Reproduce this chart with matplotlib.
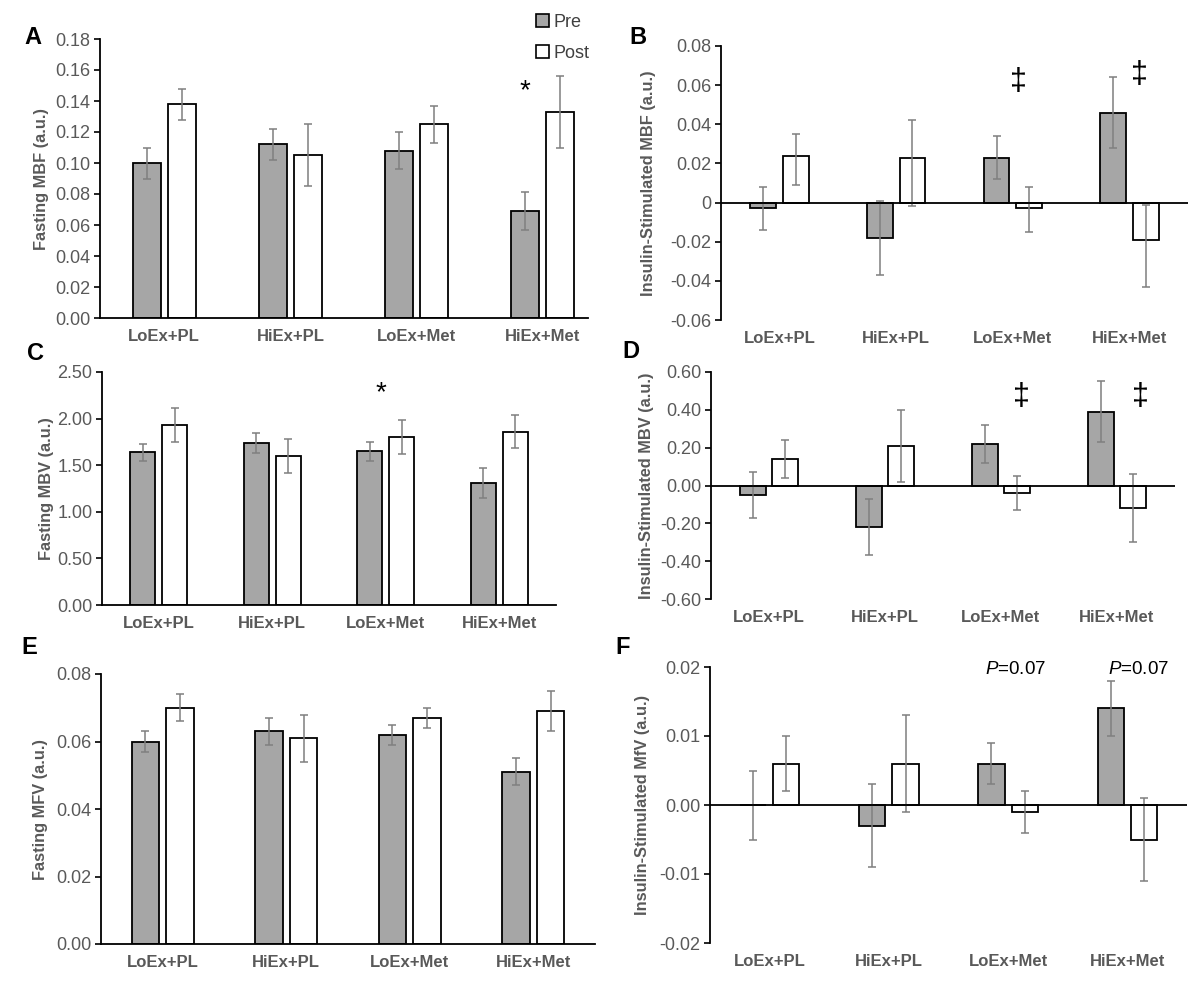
import numpy as np
import matplotlib
matplotlib.use('Agg')
import matplotlib.pyplot as plt
from matplotlib.patches import Patch
from matplotlib.ticker import FixedLocator, FuncFormatter

plt.rcParams['font.family'] = ['Liberation Sans', 'DejaVu Sans']
plt.rcParams['mathtext.fontset'] = 'custom'
plt.rcParams['mathtext.it'] = 'Liberation Sans:italic'
plt.rcParams['mathtext.rm'] = 'Liberation Sans'

groups = ['LoEx+PL', 'HiEx+PL', 'LoEx+Met', 'HiEx+Met']

# A: fasting MBF
mbf_pre = [0.100, 0.112, 0.108, 0.069]
mbf_pre_err = [0.010, 0.010, 0.012, 0.012]
mbf_post = [0.138, 0.105, 0.125, 0.133]
mbf_post_err = [0.010, 0.020, 0.012, 0.023]

# B: insulin-stimulated MBF (post error bars are not symmetric)
ins_mbf_pre = [-0.003, -0.018, 0.023, 0.046]
ins_mbf_pre_err = [0.011, 0.019, 0.011, 0.018]
ins_mbf_post = [0.024, 0.023, -0.003, -0.019]
ins_mbf_post_err_lo = [0.015, 0.025, 0.012, 0.024]
ins_mbf_post_err_hi = [0.011, 0.019, 0.011, 0.018]

# C: fasting MBV
mbv_pre = [1.64, 1.74, 1.65, 1.31]
mbv_pre_err = [0.09, 0.11, 0.10, 0.16]
mbv_post = [1.93, 1.60, 1.80, 1.86]
mbv_post_err = [0.18, 0.18, 0.18, 0.18]

# D: insulin-stimulated MBV
ins_mbv_pre = [-0.05, -0.22, 0.22, 0.39]
ins_mbv_pre_err = [0.12, 0.15, 0.10, 0.16]
ins_mbv_post = [0.14, 0.21, -0.04, -0.12]
ins_mbv_post_err = [0.10, 0.19, 0.09, 0.18]

# E: fasting MFV
mfv_pre = [0.060, 0.063, 0.062, 0.051]
mfv_pre_err = [0.003, 0.004, 0.003, 0.004]
mfv_post = [0.070, 0.061, 0.067, 0.069]
mfv_post_err = [0.004, 0.007, 0.003, 0.006]

# F: insulin-stimulated MfV
ins_mfv_pre = [0.000, -0.003, 0.006, 0.014]
ins_mfv_pre_err = [0.005, 0.006, 0.003, 0.004]
ins_mfv_post = [0.006, 0.006, -0.001, -0.005]
ins_mfv_post_err = [0.004, 0.007, 0.003, 0.006]

GRAY = '#a6a6a6'
TXT = '#595959'
W, H = 1200, 1000

fig = plt.figure(figsize=(12, 10), dpi=100)


def make_axes(left, right, top, bottom):
    # pixel box -> figure fraction
    return fig.add_axes([left / W, 1 - bottom / H, (right - left) / W, (bottom - top) / H])


def fmt_two(v, pos):
    return '{:.2f}'.format(v)


def fmt_zero(v, pos):
    if abs(v) < 1e-9:
        return '0'
    return '{:.2f}'.format(v)


def panel(box, pre, pre_err, post, post_err, ylabel, ylim, ystep, label_x,
          xlim=(-0.5, 3.5), signed=False, formatter=fmt_two):
    ax = make_axes(*box)
    x = np.arange(len(groups))
    ax.bar(x - 0.14, pre, 0.22, color=GRAY, edgecolor='black', linewidth=1.3, zorder=2)
    ax.bar(x + 0.14, post, 0.22, color='white', edgecolor='black', linewidth=1.3, zorder=2)
    ax.errorbar(x - 0.14, pre, yerr=pre_err, fmt='none', ecolor='#7f7f7f',
                elinewidth=1.1, capsize=3, capthick=1.1, zorder=3)
    ax.errorbar(x + 0.14, post, yerr=post_err, fmt='none', ecolor='#7f7f7f',
                elinewidth=1.1, capsize=3, capthick=1.1, zorder=3)
    ax.set_xlim(*xlim)
    ax.set_ylim(*ylim)
    ticks = np.arange(ylim[0], ylim[1] + ystep / 2, ystep)
    ax.yaxis.set_major_locator(FixedLocator(ticks))
    ax.yaxis.set_major_formatter(FuncFormatter(formatter))
    ax.set_xticks(x)
    ax.set_xticklabels(groups, fontsize=12, fontweight='bold', color=TXT)
    ax.tick_params(axis='x', length=0, pad=8)
    ax.tick_params(axis='y', labelsize=13, labelcolor=TXT, length=4, width=1.2,
                   color='black', pad=3)
    for s in ['top', 'right']:
        ax.spines[s].set_visible(False)
    ax.spines['left'].set_linewidth(1.3)
    ax.spines['bottom'].set_linewidth(1.3)
    if signed:
        ax.spines['bottom'].set_visible(False)
        ax.axhline(0, color='black', linewidth=1.3, zorder=4)
    ax.set_ylabel(ylabel, fontsize=11.8, fontweight='bold', color=TXT, va='center')
    ax.yaxis.set_label_coords((label_x - box[0]) / (box[1] - box[0]), 0.5)
    return ax


ax_a = panel((100, 588, 39, 318), mbf_pre, mbf_pre_err, mbf_post, mbf_post_err,
             'Fasting MBF (a.u.)', (0, 0.18), 0.02, 42, xlim=(-0.51, 3.36))
ax_b = panel((721, 1188, 46, 320), ins_mbf_pre, ins_mbf_pre_err, ins_mbf_post,
             [ins_mbf_post_err_lo, ins_mbf_post_err_hi],
             'Insulin-Stimulated MBF (a.u.)', (-0.06, 0.08), 0.02, 649, signed=True,
             formatter=fmt_zero)
ax_c = panel((102, 556, 372, 605), mbv_pre, mbv_pre_err, mbv_post, mbv_post_err,
             'Fasting MBV (a.u.)', (0, 2.5), 0.5, 46)
ax_d = panel((711, 1175, 372, 599), ins_mbv_pre, ins_mbv_pre_err, ins_mbv_post, ins_mbv_post_err,
             'Insulin-Stimulated MBV (a.u.)', (-0.6, 0.6), 0.2, 646, signed=True)
ax_e = panel((101, 595, 674, 944), mfv_pre, mfv_pre_err, mfv_post, mfv_post_err,
             'Fasting MFV (a.u.)', (0, 0.08), 0.02, 41)
ax_f = panel((710, 1187, 667, 943), ins_mfv_pre, ins_mfv_pre_err, ins_mfv_post, ins_mfv_post_err,
             'Insulin-Stimulated MfV (a.u.)', (-0.02, 0.02), 0.01, 642, signed=True)

# significance marks
ax_a.text(2.86, 0.146, '*', fontsize=20, ha='center', va='center')
ax_c.text(1.96, 2.27, '*', fontsize=20, ha='center', va='center')
ax_b.text(2.05, 0.0616, '\u2021', fontsize=22, ha='center', va='center')
ax_b.text(3.08, 0.065, '\u2021', fontsize=22, ha='center', va='center')
ax_d.text(2.18, 0.468, '\u2021', fontsize=22, ha='center', va='center')
ax_d.text(3.205, 0.468, '\u2021', fontsize=22, ha='center', va='center')
ax_f.text(2.06, 0.0196, r'$\mathit{P}$=0.07', fontsize=13.5, ha='center', va='center')
ax_f.text(3.09, 0.0196, r'$\mathit{P}$=0.07', fontsize=13.5, ha='center', va='center')

# panel letters
for letter, px, py in [('A', 33, 37), ('B', 638, 38), ('C', 35, 354),
                       ('D', 631, 352), ('E', 29, 648), ('F', 623, 647)]:
    fig.text(px / W, 1 - py / H, letter, fontsize=17, fontweight='bold',
             ha='center', va='center')

handles = [Patch(facecolor=GRAY, edgecolor='black', linewidth=1.2, label='Pre'),
           Patch(facecolor='white', edgecolor='black', linewidth=1.2, label='Post')]
fig.legend(handles=handles, loc='upper left', bbox_to_anchor=(536 / W, 1 - 14 / H),
           frameon=False, fontsize=13, handlelength=0.7, handleheight=0.7,
           handletextpad=0.25, labelspacing=0.75, borderpad=0, borderaxespad=0,
           labelcolor='#404040')

plt.savefig('out.png', dpi=100)
print('saved out.png')
